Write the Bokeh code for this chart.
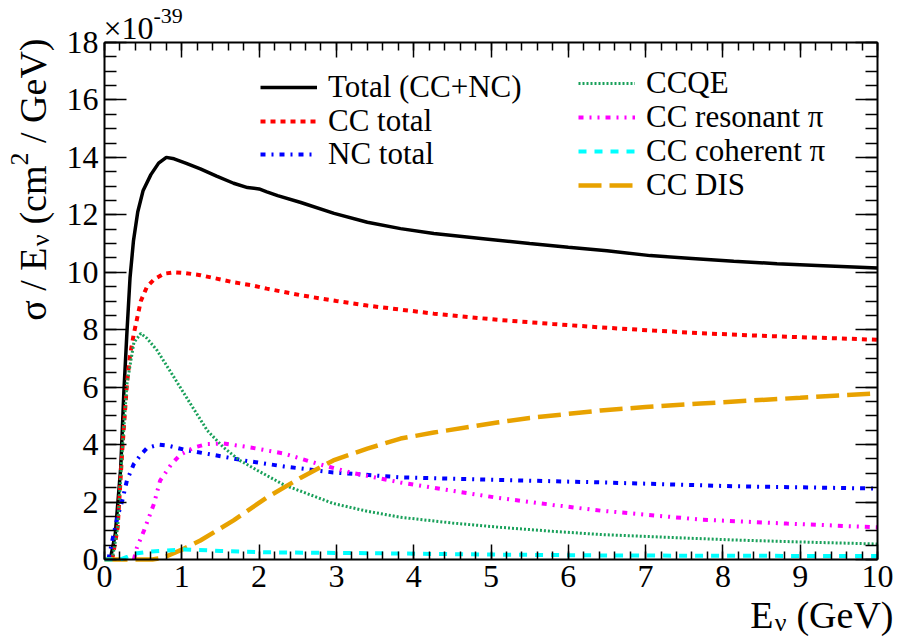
import math
from bokeh.plotting import figure
from bokeh.models import (Range1d, LinearAxis, SingleIntervalTicker, Label, Legend, LegendItem,
                          CustomJSTickFormatter)
from bokeh.embed import file_html
from bokeh.resources import INLINE

# ---------------- data (units of 1e-39 cm^2/GeV) ----------------
e_total = [0.05, 0.08, 0.14, 0.21, 0.25, 0.29, 0.33, 0.375, 0.43, 0.5, 0.6, 0.7, 0.8, 0.9, 1.05, 1.24,
           1.45, 1.67, 1.85, 2.0, 2.1, 2.24, 2.54, 2.97, 3.4, 3.83, 4.26, 4.9, 5.5, 6.0, 6.5, 7.06,
           7.6, 8.14, 8.7, 9.22, 10.0]
y_total = [0.0, 0.07, 0.9, 3.2, 5.8, 7.9, 9.8, 11.1, 12.1, 12.85, 13.4, 13.8, 14.0, 13.95, 13.8, 13.6,
           13.35, 13.1, 12.95, 12.9, 12.8, 12.67, 12.43, 12.05, 11.74, 11.52, 11.35, 11.17, 11.0, 10.87, 10.75, 10.58,
           10.48, 10.38, 10.3, 10.24, 10.15]

e_cc = [0.1, 0.17, 0.23, 0.29, 0.33, 0.38, 0.47, 0.55, 0.64, 0.77, 0.9, 1.05, 1.24, 1.45, 1.67, 1.9,
        2.1, 2.54, 3.0, 3.4, 3.83, 4.26, 5.1, 5.8, 6.42, 7.1, 7.71, 8.4, 9.0, 9.5, 10.0]
y_cc = [0.0, 1.1, 3.8, 6.1, 7.1, 7.87, 9.0, 9.5, 9.75, 9.95, 10.0, 9.97, 9.9, 9.78, 9.65, 9.55,
        9.43, 9.2, 9.0, 8.84, 8.7, 8.56, 8.34, 8.2, 8.08, 7.97, 7.88, 7.8, 7.74, 7.7, 7.65]

e_nc = [0.05, 0.12, 0.17, 0.23, 0.29, 0.38, 0.47, 0.55, 0.7, 0.81, 1.07, 1.33, 1.8, 2.32, 2.96, 3.83,
        5.12, 6.48, 8.14, 10.0]
y_nc = [0.0, 0.9, 1.5, 2.05, 2.75, 3.33, 3.65, 3.88, 4.0, 3.97, 3.8, 3.68, 3.45, 3.24, 3.03, 2.86,
        2.77, 2.68, 2.55, 2.47]

e_qe = [0.1, 0.17, 0.23, 0.29, 0.38, 0.47, 0.55, 0.68, 0.9, 1.11, 1.33, 1.54, 1.75, 1.98, 2.32, 2.96,
        3.4, 3.83, 4.5, 5.12, 5.8, 6.42, 7.2, 8.14, 9.0, 10.0]
y_qe = [0.0, 1.1, 3.8, 6.1, 7.55, 7.87, 7.7, 7.28, 6.34, 5.43, 4.49, 3.9, 3.45, 3.1, 2.6, 1.95,
        1.68, 1.47, 1.27, 1.12, 0.98, 0.87, 0.78, 0.68, 0.61, 0.54]

e_res = [0.38, 0.42, 0.51, 0.64, 0.72, 0.86, 0.98, 1.16, 1.33, 1.54, 1.89, 2.32, 2.75, 3.18, 3.83, 4.48,
         5.08, 5.8, 6.42, 7.71, 8.83, 10.0]
y_res = [0.0, 0.42, 1.0, 1.94, 2.75, 3.3, 3.65, 3.9, 4.02, 4.04, 3.9, 3.69, 3.34, 3.03, 2.68, 2.4,
         2.15, 1.9, 1.7, 1.39, 1.25, 1.12]

e_coh = [0.0, 0.2, 0.3, 0.38, 0.6, 1.03, 1.5, 2.1, 3.4, 5.1, 6.5, 8.0, 10.0]
y_coh = [0.0, 0.0, 0.1, 0.2, 0.28, 0.35, 0.3, 0.25, 0.22, 0.17, 0.14, 0.13, 0.12]

e_dis = [0.0, 0.62, 0.77, 1.03, 1.24, 1.67, 2.1, 2.54, 2.96, 3.4, 3.83, 4.26, 5.08, 5.5, 6.0, 6.42,
         7.0, 7.71, 8.4, 9.0, 9.5, 10.0]
y_dis = [0.0, 0.0, 0.07, 0.38, 0.66, 1.36, 2.16, 2.85, 3.45, 3.86, 4.21, 4.42, 4.77, 4.93, 5.07, 5.19,
         5.31, 5.43, 5.54, 5.63, 5.71, 5.78]

legend_col1 = ["Total (CC+NC)", "CC total", "NC total"]
legend_col2 = ["CCQE", "CC resonant \u03c0", "CC coherent \u03c0", "CC DIS"]

# ---------------- layout: the frame covers the whole canvas, axes are fixed inside ----------------
W, H = 899, 639
AX_L, AX_R, AX_T, AX_B = 104, 877, 42, 559   # pixel position of the plot box
XMIN, XMAX, YMIN, YMAX = 0, 10, 0, 18
SX = (AX_R - AX_L) / (XMAX - XMIN)
SY = (AX_B - AX_T) / (YMAX - YMIN)
FONT = "Liberation Serif, Times New Roman, Times, serif"
NB = "\u00a0"

def dx(px):
    return XMIN + (px - AX_L) / SX

def dy(py):
    return YMIN + (AX_B - py) / SY

p = figure(width=W, height=H, output_backend="svg", toolbar_location=None, tools="",
           x_range=Range1d(dx(0), dx(W)), y_range=Range1d(dy(H), dy(0)),
           min_border=0, x_axis_type=None, y_axis_type=None)
p.grid.visible = False
p.background_fill_color = "white"
p.border_fill_color = "white"
p.outline_line_color = None

def make_axis(interval, nminor, loc, bounds, tin, mtin, labels=True):
    ax = LinearAxis(ticker=SingleIntervalTicker(interval=interval, num_minor_ticks=nminor),
                    fixed_location=loc, bounds=bounds)
    ax.axis_line_color = "black"
    ax.axis_line_width = 2
    ax.major_tick_in = tin
    ax.major_tick_out = 0
    ax.minor_tick_in = mtin
    ax.minor_tick_out = 0
    ax.major_tick_line_color = "black"
    ax.minor_tick_line_color = "black"
    ax.major_tick_line_width = 1.5
    ax.minor_tick_line_width = 1.5
    if labels:
        ax.major_label_text_font = FONT
        ax.major_label_text_font_size = "32px"
        ax.major_label_text_color = "black"
        ax.major_label_standoff = 6
    else:
        ax.formatter = CustomJSTickFormatter(code="return ''")
        ax.major_label_text_color = None
    return ax

p.add_layout(make_axis(1, 5, YMIN, (XMIN, XMAX), 15, 8), "below")
p.add_layout(make_axis(1, 5, YMAX, (XMIN, XMAX), 15, 8, labels=False), "above")
p.add_layout(make_axis(2, 4, XMIN, (YMIN, YMAX), 22, 12), "left")
p.add_layout(make_axis(2, 4, XMAX, (YMIN, YMAX), 22, 12, labels=False), "right")

# ---------------- curves ----------------
r_tot = p.line(e_total, y_total, line_color="black", line_width=3.5)
r_cc = p.line(e_cc, y_cc, line_color="#ff0000", line_width=4, line_dash="5 5")
r_nc = p.line(e_nc, y_nc, line_color="#0000ff", line_width=4, line_dash="5 6 2 6")
r_qe = p.line(e_qe, y_qe, line_color="#19a05a", line_width=3, line_dash="2 2")
r_res = p.line(e_res, y_res, line_color="#ff00ff", line_width=4, line_dash="5 6 2 6 2 6")
r_dis = p.line(e_dis, y_dis, line_color="#e8a200", line_width=4.5, line_dash="23 8")
r_coh = p.line(e_coh, y_coh, line_color="#00ffff", line_width=4, line_dash="8 8")

# ---------------- legends: one entry per legend so the row pitch can be set ----------------
ROW_H = 36.5

def add_entry(label, rend, px, center_py):
    lg = Legend(items=[LegendItem(label=label, renderers=[rend])],
                location=(px, H - (center_py + ROW_H / 2)), orientation="vertical")
    lg.border_line_color = None
    lg.background_fill_alpha = 0
    lg.padding = 0
    lg.margin = 0
    lg.spacing = 0
    lg.glyph_width = 57
    lg.glyph_height = 20
    lg.label_height = 20
    lg.label_standoff = 11
    lg.label_text_font = FONT
    lg.label_text_font_size = "31px"
    lg.label_text_color = "black"
    p.add_layout(lg)

for lbl, r, c in zip(legend_col1, [r_tot, r_cc, r_nc], [87, 120.5, 154]):
    add_entry(lbl, r, 260, c)
for lbl, r, c in zip(legend_col2, [r_qe, r_res, r_coh, r_dis], [83, 117, 151, 185]):
    add_entry(lbl, r, 578, c)

# ---------------- axis titles ----------------
def lab(px, py, text, size, align="left", angle=0.0):
    p.add_layout(Label(x=dx(px), y=dy(py), text=text, text_font=FONT, text_font_size=size,
                       text_color="black", text_align=align, text_baseline="alphabetic",
                       angle=angle))

# x title: E_nu (GeV), right aligned
XB = 614
lab(893, XB, NB + "(GeV)", "38px", align="right")
lab(786, XB + 8, "\u03bd", "26px", align="right")
lab(773, XB, "E", "38px", align="right")

# y title: sigma / E_nu (cm^2 / GeV), rotated, ending at the top
bx = 32
ang = math.pi / 2
lab(bx, 38, NB + "/ GeV)", "38px", align="right", angle=ang)
lab(bx - 13, 152, "2", "26px", align="right", angle=ang)
lab(bx, 165, NB + "(cm", "38px", align="right", angle=ang)
lab(bx + 8, 234, "\u03bd", "26px", align="right", angle=ang)
lab(bx, 247, "\u03c3 / E", "38px", align="right", angle=ang)

# exponent
lab(103, 27, "\u00d710", "32px")
lab(153, 15, "-39", "22px")

open("out.html", "w").write(file_html(p, INLINE))
